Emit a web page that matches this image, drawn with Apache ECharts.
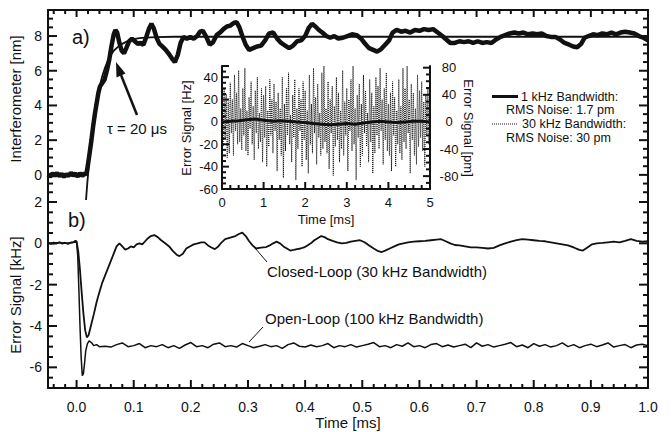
<!DOCTYPE html>
<html>
<head>
<meta charset="utf-8">
<script src="https://cdn.jsdelivr.net/npm/echarts@6/dist/echarts.min.js"></script>
<style>
  html, body { margin: 0; padding: 0; background: #fff; }
  #chart { width: 672px; height: 432px; }
</style>
</head>
<body>
<div id="chart"></div>
<script>
// ---- data (time in ms) ----
// a) interferometer trace [ms, nm]
const interfTrace = [
  [-0.05,0.02],[-0.046,-0.1],[-0.042,0.09],[-0.038,-0.05],[-0.034,0.11],[-0.03,-0.08],[-0.026,0.06],
  [-0.022,-0.11],[-0.018,0.04],[-0.014,-0.06],[-0.01,0.12],[-0.006,-0.04],[-0.002,0.08],[0.002,-0.1],
  [0.006,0.1],[0.01,-0.06],[0.014,0.09],[0.017,0.0],[0.02,0.6],[0.023,1.3],[0.026,2.0],[0.029,2.8],
  [0.032,3.5],[0.035,4.1],[0.038,4.7],[0.041,5.1],[0.045,5.3],[0.049,5.5],[0.053,6.0],[0.057,6.6],
  [0.061,7.4],[0.065,8.1],[0.068,8.35],[0.071,8.2],[0.075,7.6],[0.079,7.15],[0.083,7.0],[0.087,7.3],
  [0.092,7.7],[0.097,7.85],[0.102,7.7],[0.107,7.55],[0.112,7.6],[0.117,7.5],[0.122,7.95],[0.127,8.45],
  [0.131,8.7],[0.135,8.45],[0.14,7.9],[0.145,7.55],[0.15,7.4],[0.156,7.2],[0.162,6.95],[0.167,6.7],
  [0.172,6.5],[0.177,6.9],[0.182,7.6],[0.187,7.95],[0.193,7.85],[0.199,7.95],[0.205,7.85],[0.211,8.0],
  [0.216,8.25],[0.221,8.3],[0.227,7.95],[0.233,7.5],[0.239,7.65],[0.245,8.05],[0.251,8.2],[0.257,8.4],
  [0.263,8.55],[0.269,8.6],[0.275,8.75],[0.28,8.8],[0.285,8.5],[0.29,8.0],[0.296,7.5],[0.302,7.2],
  [0.309,7.3],[0.316,7.4],[0.323,7.45],[0.33,7.75],[0.337,8.15],[0.344,8.2],[0.351,7.85],[0.358,7.6],
  [0.365,7.45],[0.372,7.3],[0.379,7.45],[0.386,7.7],[0.393,7.75],[0.4,8.0],[0.406,8.45],[0.412,8.7],
  [0.418,8.55],[0.424,8.35],[0.43,8.2],[0.437,8.0],[0.444,7.9],[0.451,8.0],[0.458,7.85],[0.466,7.9],
  [0.474,8.0],[0.482,8.1],[0.49,8.05],[0.498,7.85],[0.505,7.55],[0.512,7.3],[0.519,7.2],[0.526,7.1],
  [0.533,7.25],[0.54,7.5],[0.547,7.75],[0.553,8.2],[0.56,8.35],[0.568,8.25],[0.576,8.3],[0.584,8.2],
  [0.592,8.35],[0.6,8.3],[0.608,8.4],[0.616,8.35],[0.624,8.4],[0.632,8.2],[0.64,8.0],[0.647,7.8],
  [0.654,7.6],[0.662,7.6],[0.67,7.7],[0.678,7.65],[0.686,7.7],[0.694,7.6],[0.702,7.7],[0.71,7.6],
  [0.718,7.65],[0.726,7.6],[0.734,7.8],[0.742,7.95],[0.75,8.05],[0.758,8.15],[0.766,8.2],[0.774,8.15],
  [0.782,8.2],[0.79,8.1],[0.798,8.15],[0.806,8.1],[0.814,8.15],[0.822,8.0],[0.83,7.95],[0.838,7.95],
  [0.846,7.8],[0.854,7.6],[0.862,7.5],[0.869,7.4],[0.876,7.35],[0.883,7.55],[0.889,7.9],[0.896,8.0],
  [0.904,8.1],[0.912,8.05],[0.92,8.15],[0.928,8.1],[0.936,8.2],[0.944,8.1],[0.952,8.2],[0.96,8.25],
  [0.968,8.2],[0.976,8.15],[0.984,8.0],[0.992,7.9],[1.0,7.75]
];
// a) exponential fit, tau = 20 us [ms, nm]
const fitCurve = [
  [0.016,-1.7],[0.018,-0.8],[0.02,0.0],[0.0225,0.95],[0.025,1.8],[0.0275,2.5],[0.03,3.15],[0.0325,3.7],
  [0.035,4.2],[0.0375,4.65],[0.04,5.05],[0.045,5.7],[0.05,6.2],[0.055,6.6],[0.06,6.9],[0.065,7.15],
  [0.07,7.3],[0.075,7.45],[0.08,7.55],[0.09,7.72],[0.1,7.82],[0.11,7.88],[0.12,7.91],[0.14,7.94],
  [0.17,7.96],[1.0,7.96]
];
// b) closed-loop error signal [ms, kHz]
const closedLoop = [
  [-0.05,0.02],[-0.045,-0.03],[-0.04,0.04],[-0.035,0.0],[-0.03,0.05],[-0.025,-0.02],[-0.02,0.03],
  [-0.015,-0.03],[-0.01,0.04],[-0.005,0.06],[-0.002,0.12],[0.0,0.1],[0.003,-0.4],[0.006,-1.3],
  [0.009,-2.4],[0.012,-3.4],[0.015,-4.2],[0.018,-4.55],[0.021,-4.45],[0.025,-4.0],[0.03,-3.45],
  [0.035,-2.85],[0.04,-2.35],[0.045,-1.9],[0.05,-1.55],[0.055,-1.2],[0.06,-0.85],[0.065,-0.5],
  [0.07,-0.15],[0.075,0.0],[0.08,-0.15],[0.085,-0.3],[0.09,-0.25],[0.095,-0.15],[0.1,-0.2],
  [0.105,-0.05],[0.11,0.0],[0.115,-0.05],[0.12,0.1],[0.125,0.25],[0.13,0.35],[0.136,0.4],[0.142,0.3],
  [0.148,0.15],[0.155,0.0],[0.162,-0.15],[0.168,-0.35],[0.175,-0.55],[0.18,-0.62],[0.186,-0.5],
  [0.192,-0.25],[0.198,-0.15],[0.205,-0.05],[0.212,0.0],[0.218,0.05],[0.224,0.05],[0.23,-0.1],
  [0.236,-0.2],[0.242,-0.28],[0.248,-0.15],[0.254,0.05],[0.26,0.2],[0.266,0.25],[0.272,0.3],
  [0.278,0.35],[0.284,0.45],[0.29,0.52],[0.296,0.35],[0.302,0.1],[0.308,-0.1],[0.314,-0.25],
  [0.32,-0.22],[0.326,-0.2],[0.332,-0.18],[0.338,-0.1],[0.344,0.0],[0.35,0.08],[0.356,0.0],
  [0.362,-0.15],[0.368,-0.25],[0.374,-0.35],[0.38,-0.32],[0.386,-0.28],[0.392,-0.25],[0.398,-0.2],
  [0.404,-0.1],[0.41,0.0],[0.416,0.15],[0.422,0.25],[0.428,0.35],[0.434,0.3],[0.44,0.2],[0.448,0.12],
  [0.456,0.05],[0.464,0.0],[0.472,0.02],[0.48,0.08],[0.488,0.12],[0.496,0.15],[0.504,0.05],
  [0.512,-0.1],[0.52,-0.25],[0.528,-0.38],[0.534,-0.42],[0.54,-0.35],[0.548,-0.25],[0.556,-0.15],
  [0.564,-0.05],[0.572,0.0],[0.58,0.05],[0.59,0.08],[0.6,0.1],[0.61,0.12],[0.62,0.15],[0.63,0.18],
  [0.638,0.2],[0.646,0.1],[0.654,0.0],[0.662,-0.08],[0.67,-0.1],[0.68,-0.15],[0.69,-0.2],[0.7,-0.2],
  [0.71,-0.22],[0.72,-0.25],[0.73,-0.22],[0.74,-0.1],[0.75,0.0],[0.76,0.08],[0.77,0.15],[0.78,0.2],
  [0.79,0.18],[0.8,0.15],[0.81,0.12],[0.82,0.1],[0.83,0.05],[0.84,0.0],[0.85,-0.05],[0.86,-0.1],
  [0.87,-0.2],[0.88,-0.32],[0.886,-0.35],[0.894,-0.2],[0.902,-0.05],[0.91,0.0],[0.92,0.02],
  [0.93,0.05],[0.94,0.08],[0.95,0.05],[0.96,0.12],[0.97,0.2],[0.98,0.12],[0.99,0.08],[1.0,0.1]
];
// b) open-loop error signal [ms, kHz]
const openLoop = [
  [-0.05,0.02],[-0.04,-0.02],[-0.03,0.04],[-0.02,0.0],[-0.01,0.03],[-0.003,0.05],[0.0,0.05],
  [0.002,-0.6],[0.004,-2.2],[0.006,-4.0],[0.008,-5.5],[0.01,-6.4],[0.012,-6.3],[0.014,-5.8],
  [0.016,-5.2],[0.019,-4.85],[0.022,-4.72],[0.026,-4.8],[0.03,-4.95],[0.035,-4.9],[0.04,-5.0],
  [0.05,-4.98],[0.06,-5.02],[0.07,-4.9],[0.08,-4.82],[0.09,-5.0],[0.1,-4.95],[0.11,-4.85],[0.12,-5.05],
  [0.13,-4.95],[0.14,-5.0],[0.15,-4.9],[0.16,-5.05],[0.17,-4.95],[0.18,-5.08],[0.19,-4.92],[0.2,-4.8],
  [0.21,-5.0],[0.22,-4.95],[0.23,-5.05],[0.24,-4.88],[0.25,-4.82],[0.26,-5.0],[0.27,-4.95],[0.28,-5.02],
  [0.29,-4.85],[0.3,-4.95],[0.31,-5.05],[0.32,-4.98],[0.33,-4.9],[0.34,-5.0],[0.35,-4.95],[0.36,-5.08],
  [0.37,-4.9],[0.38,-4.82],[0.39,-4.98],[0.4,-5.02],[0.41,-4.92],[0.42,-5.0],[0.43,-4.95],[0.44,-4.85],
  [0.45,-5.05],[0.46,-4.95],[0.47,-5.0],[0.48,-4.9],[0.49,-5.02],[0.5,-4.95],[0.51,-4.88],[0.52,-4.8],
  [0.53,-5.0],[0.54,-4.95],[0.55,-5.05],[0.56,-4.9],[0.57,-4.98],[0.58,-4.82],[0.59,-5.0],[0.6,-4.95],
  [0.61,-5.05],[0.62,-4.9],[0.63,-4.85],[0.64,-5.0],[0.65,-4.92],[0.66,-5.02],[0.67,-4.95],[0.68,-4.88],
  [0.69,-5.05],[0.7,-4.82],[0.71,-4.98],[0.72,-4.9],[0.73,-5.02],[0.74,-4.95],[0.75,-4.88],[0.76,-4.8],
  [0.77,-5.0],[0.78,-4.92],[0.79,-5.05],[0.8,-4.85],[0.81,-4.98],[0.82,-4.9],[0.83,-5.02],[0.84,-4.95],
  [0.85,-4.82],[0.86,-5.0],[0.87,-4.9],[0.88,-5.05],[0.89,-4.95],[0.9,-4.88],[0.91,-5.0],[0.92,-4.92],
  [0.93,-4.82],[0.94,-5.02],[0.95,-4.95],[0.96,-4.9],[0.97,-5.05],[0.98,-4.92],[0.99,-4.88],[1.0,-4.95]
];
// inset: error signal [ms, Hz], 1 kHz bandwidth
const inset1kHz = [
  [0,0],[0.2,0.5],[0.4,1],[0.6,2],[0.8,2.5],[1.0,1.5],[1.2,0.5],[1.4,1],[1.6,0.5],[1.8,0],[2.0,-0.5],
  [2.2,-1.5],[2.4,-2],[2.6,-2.5],[2.8,-2],[3.0,-1.5],[3.2,-2],[3.4,-1],[3.6,0],[3.8,0.5],[4.0,0],
  [4.2,-0.5],[4.4,0],[4.6,0.5],[4.8,0.5],[5.0,0]
];
// inset: error signal [Hz], 30 kHz bandwidth, one sample every insetStep ms
const insetStep = 0.025;
const inset30kHz = [
  8,-22,30,-15,25,-32,18,-28,35,-10,
  20,-30,42,-8,26,-20,46,-18,12,-25,
  30,-12,48,-26,10,-30,22,-6,36,-20,
  14,-34,28,-10,40,-24,8,-18,30,-36,
  24,-14,32,-40,10,-22,38,-12,20,-28,
  34,-8,18,-44,26,-16,12,-30,40,-50,
  16,-26,30,-12,44,-20,6,-36,24,-14,
  38,-52,12,-24,30,-8,20,-40,36,-16,
  28,-34,10,-46,42,-20,16,-28,48,-10,
  22,-38,34,-14,8,-30,44,-24,50,-18,
  12,-28,36,-42,20,-10,32,-48,14,-22,
  40,-16,26,-36,10,-24,46,-30,18,-12,
  30,-44,20,-8,38,-26,50,-20,12,-52,
  24,-14,34,-40,16,-30,42,-10,28,-22,
  8,-36,38,-18,26,-46,14,-28,40,-12,
  32,-24,48,-8,20,-38,30,-16,44,-26,
  16,-30,26,-44,36,-12,22,-40,10,-20,
  38,-28,14,-34,48,-18,30,-24,50,-10,
  20,-46,34,-16,26,-30,12,-38,42,-22,
  28,-14,36,-26,18,-40,24,-12,30,-20,
  10
];

// ---- tick labels ----
const timeTicks = [0, 0.1, 0.2, 0.3, 0.4, 0.5, 0.6, 0.7, 0.8, 0.9, 1.0];
const nmTicks = [0, 2, 4, 6, 8];
const kHzTicks = [-6, -4, -2, 0, 2];
const insetTimeTicks = [0, 1, 2, 3, 4, 5];
const hzTicks = [-60, -40, -20, 0, 20, 40];
const pmTicks = [-80, -40, 0, 40, 80];

const FONT = '"Liberation Sans", Arial, sans-serif';
const INK = '#111';

// axis ranges
const T0 = -0.05, T1 = 1.0;
const NM0 = -1.39, NM1 = 9.5;
const KHZ0 = -7, KHZ1 = 2.145;
const HZ0 = -60, HZ1 = 50;
const PM0 = -99, PM1 = 82.5;

// panel boxes
const boxA = { left: 48, top: 10, width: 600, height: 189 };
const boxB = { left: 48, top: 199, width: 600, height: 189 };
const boxInset = { left: 222, top: 66, width: 208, height: 123 };

function minorTicks(min, max, step, majors) {
  const out = [];
  const first = Math.ceil(min / step - 1e-9);
  const last = Math.floor(max / step + 1e-9);
  for (let k = first; k <= last; k++) {
    const v = +(k * step).toFixed(6);
    if (!majors.some(m => Math.abs(m - v) < 1e-9)) out.push(v);
  }
  return out;
}

function makeAxis(o) {
  const label = o.labels ? {
    show: true, customValues: o.labels, margin: o.margin, color: INK,
    fontSize: o.size, fontFamily: FONT, formatter: o.fmt || (v => String(v))
  } : { show: false };
  if (o.labels && o.align) label.align = o.align;
  return {
    type: 'value', gridIndex: o.grid, position: o.pos, min: o.min, max: o.max,
    axisLine: { show: o.line !== false, onZero: false, lineStyle: { color: INK, width: 2 } },
    axisTick: { show: false },
    axisLabel: label,
    splitLine: { show: false },
    axisPointer: { show: false }
  };
}

const xAxes = [
  makeAxis({ grid: 0, pos: 'top', min: T0, max: T1 }),
  makeAxis({ grid: 1, pos: 'bottom', min: T0, max: T1, labels: timeTicks, margin: 12, size: 14,
    fmt: v => v.toFixed(1) }),
  makeAxis({ grid: 2, pos: 'bottom', min: 0, max: 5, labels: insetTimeTicks, margin: 7, size: 13 })
];
const yAxes = [
  makeAxis({ grid: 0, pos: 'left', min: NM0, max: NM1, labels: nmTicks, margin: 6, size: 14 }),
  makeAxis({ grid: 0, pos: 'right', min: NM0, max: NM1 }),
  makeAxis({ grid: 1, pos: 'left', min: KHZ0, max: KHZ1, labels: kHzTicks, margin: 6, size: 14 }),
  makeAxis({ grid: 1, pos: 'right', min: KHZ0, max: KHZ1 }),
  makeAxis({ grid: 2, pos: 'left', min: HZ0, max: HZ1, labels: hzTicks, margin: 4, size: 13 }),
  makeAxis({ grid: 2, pos: 'right', min: PM0, max: PM1, labels: pmTicks, margin: 19, size: 13, align: 'center' })
];

function lineSeries(x, y, data, width, dash) {
  return {
    type: 'line', xAxisIndex: x, yAxisIndex: y, data: data,
    symbol: 'none', silent: true, clip: true,
    lineStyle: { color: INK, width: width, type: dash || 'solid' }
  };
}

function txt(x, y, s, size, align, rotation) {
  return {
    type: 'text', x: x, y: y, rotation: rotation || 0, silent: true,
    style: { text: s, fill: INK, font: size + 'px ' + FONT,
      align: align || 'left', textAlign: align || 'left',
      verticalAlign: 'middle', textVerticalAlign: 'middle' }
  };
}
function seg(x1, y1, x2, y2, w, dash) {
  const st = { stroke: INK, lineWidth: w };
  if (dash) st.lineDash = dash;
  return { type: 'line', silent: true, shape: { x1: x1, y1: y1, x2: x2, y2: y2 }, style: st };
}

const labels = [
  txt(15, 99, 'Interferometer [nm]', 15, 'center', Math.PI / 2),
  txt(15, 295, 'Error Signal [kHz]', 15, 'center', Math.PI / 2),
  txt(348, 422, 'Time [ms]', 15, 'center'),
  txt(186, 128, 'Error Signal [Hz]', 13, 'center', Math.PI / 2),
  txt(468, 128, 'Error Signal [pm]', 13, 'center', -Math.PI / 2),
  txt(326, 219, 'Time [ms]', 13, 'center'),
  txt(72, 37, 'a)', 20),
  txt(68, 220, 'b)', 20),
  txt(107, 128, 'τ = 20 μs', 15),
  // arrow to the fit
  seg(137, 115, 121, 75, 2.5),
  { type: 'polygon', silent: true, shape: { points: [[116, 62], [125.5, 73.5], [116.5, 77.5]] },
    style: { fill: INK } },
  // legend
  seg(492, 96.5, 518, 96.5, 3),
  txt(521, 96.5, '1 kHz Bandwidth:', 12.5),
  txt(506, 110, 'RMS Noise: 1.7 pm', 12.5),
  seg(492, 124, 517, 124, 1, [1, 1]),
  txt(522, 124, '30 kHz Bandwidth:', 12.5),
  txt(506, 138, 'RMS Noise: 30 pm', 12.5),
  // labels for panel b) curves
  seg(255, 248, 267, 262, 1),
  txt(267, 271, 'Closed-Loop (30 kHz Bandwidth)', 15),
  seg(249, 342, 263, 327, 1),
  txt(265, 318, 'Open-Loop (100 kHz Bandwidth)', 15)
];

const chart = echarts.init(document.getElementById('chart'), null, { renderer: 'svg' });
chart.setOption({
  animation: false,
  backgroundColor: '#fff',
  grid: [
    Object.assign({ outerBoundsMode: 'none' }, boxA),
    Object.assign({ outerBoundsMode: 'none' }, boxB),
    Object.assign({ outerBoundsMode: 'none' }, boxInset)
  ],
  xAxis: xAxes,
  yAxis: yAxes,
  series: [
    lineSeries(0, 0, fitCurve, 1.8),
    lineSeries(0, 0, interfTrace, 4.5),
    lineSeries(1, 2, openLoop, 1.5),
    lineSeries(1, 2, closedLoop, 1.8),
    lineSeries(2, 4, inset30kHz.map((v, i) => [i * insetStep, v]), 1, 'dotted'),
    lineSeries(2, 4, inset1kHz, 3)
  ]
});

// inward tick marks along the panel frames, as small filled bars
// item: [x, y, dx, dy] -> bar from the point (x, y) of a box, dx or dy pixels long
function xEdge(values, yAt, len) { return values.map(v => [v, yAt, 0, len]); }
function yEdge(values, xAt, len) { return values.map(v => [xAt, v, len, 0]); }
function tickMarks(box, xr, yr, items) {
  return items.map(function (it) {
    const px = box.left + (it[0] - xr[0]) / (xr[1] - xr[0]) * box.width;
    const py = box.top + (yr[1] - it[1]) / (yr[1] - yr[0]) * box.height;
    const shape = it[2] === 0
      ? { x: px - 1, y: Math.min(py, py + it[3]), width: 2, height: Math.abs(it[3]) }
      : { x: Math.min(px, px + it[2]), y: py - 1, width: Math.abs(it[2]), height: 2 };
    return { type: 'rect', silent: true, shape: shape, style: { fill: INK } };
  });
}
const timeMinor = minorTicks(T0, T1, 0.02, timeTicks);
const nmMinor = minorTicks(NM0, NM1, 0.5, nmTicks);
const kHzMinor = minorTicks(KHZ0, KHZ1, 0.5, kHzTicks);
const hzMajor = hzTicks.concat([50]);

const ticks = [].concat(
  tickMarks(boxA, [T0, T1], [NM0, NM1], [].concat(
    xEdge(timeTicks, NM1, 7), xEdge(timeMinor, NM1, 4),
    yEdge(nmTicks, T0, 9), yEdge(nmMinor, T0, 5),
    yEdge(nmTicks, T1, -9), yEdge(nmMinor, T1, -5))),
  tickMarks(boxB, [T0, T1], [KHZ0, KHZ1], [].concat(
    xEdge(timeTicks, KHZ0, -8), xEdge(timeMinor, KHZ0, -4),
    yEdge(kHzTicks, T0, 9), yEdge(kHzMinor, T0, 5),
    yEdge(kHzTicks, T1, -9), yEdge(kHzMinor, T1, -5))),
  tickMarks(boxInset, [0, 5], [HZ0, HZ1], [].concat(
    xEdge(insetTimeTicks, HZ0, -7), xEdge(minorTicks(0, 5, 0.2, insetTimeTicks), HZ0, -4),
    yEdge(hzMajor, 0, 7), yEdge(minorTicks(HZ0, HZ1, 5, hzMajor), 0, 4))),
  tickMarks(boxInset, [0, 5], [PM0, PM1], [].concat(
    yEdge(pmTicks, 5, -7), yEdge(minorTicks(PM0, PM1, 10, pmTicks), 5, -4)))
);

chart.setOption({ graphic: labels.concat(ticks) });
</script>
</body>
</html>
